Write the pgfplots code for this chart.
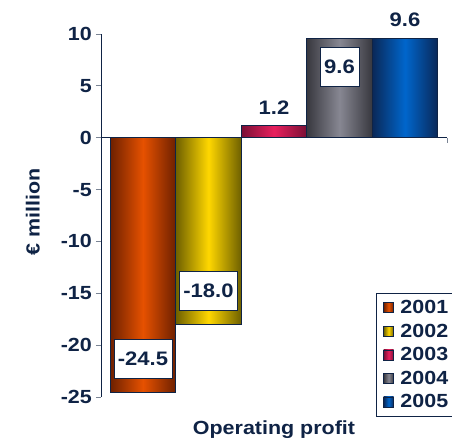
\documentclass[border=0pt]{standalone}
\usepackage{pgfplots}
\pgfplotsset{compat=1.18}
\usepackage{fontspec}
\setmainfont{Liberation Sans}[FakeStretch=1.13]

\definecolor{navy}{HTML}{0F2345}
\definecolor{tickgray}{HTML}{7A8494}
\definecolor{orA}{HTML}{E65100}\definecolor{orB}{HTML}{6E2000}
\definecolor{yeA}{HTML}{FFD700}\definecolor{yeB}{HTML}{6E6000}
\definecolor{reA}{HTML}{E8205E}\definecolor{reB}{HTML}{7A0F35}
\definecolor{grA}{HTML}{878792}\definecolor{grB}{HTML}{38383F}
\definecolor{blA}{HTML}{0066CC}\definecolor{blB}{HTML}{0A2858}

\tikzset{
  boxlabel/.style={fill=white, draw=navy, line width=0.6pt, minimum height=39pt,
    inner xsep=4pt, text=navy, anchor=center},
  freelabel/.style={fill=none, draw=none, text=navy, anchor=center},
}

\begin{document}
\begin{tikzpicture}
% page = 452 x 441, axis box lower-left at (101,44) from the page corner
\path[use as bounding box] (-101pt,-44pt) rectangle ++(452pt,441pt);
\begin{axis}[
  at={(0pt,0pt)}, anchor=south west,
  scale only axis, width=346pt, height=363pt,
  xmin=0.359, xmax=5.641, ymin=-25, ymax=10,
  clip=false,
  axis y line*=left, axis x line*=middle,
  axis line style={navy, line width=0.6pt},
  xtick=\empty,
  extra x ticks={5.641}, extra x tick labels={},
  extra x tick style={tick align=outside, major tick length=5pt},
  ytick={-25,-20,...,10},
  tick align=outside, major tick length=5pt,
  tick style={tickgray, line width=0.8pt},
  /pgf/number format/assume math mode=true,
  yticklabel style={font=\fontsize{19}{19}\selectfont\bfseries, text=navy, inner xsep=4pt},
  ylabel={€ million},
  every axis y label/.style={at={(axis description cs:-0.197,0.51)}, rotate=90,
    anchor=center, font=\fontsize{19}{19}\selectfont\bfseries, text=navy},
  xlabel={Operating profit},
  every axis x label/.style={at={(axis description cs:0.5,-0.09)},
    anchor=center, font=\fontsize{19}{19}\selectfont\bfseries, text=navy},
  ybar, bar width=1, bar shift=0pt,
  nodes near coords={\pgfmathprintnumber[fixed,fixed zerofill,precision=1]{\pgfplotspointmeta}},
  nodes near coords style={font=\fontsize{19.5}{19.5}\selectfont\bfseries},
  legend style={at={(axis description cs:0.795,0.2865)}, anchor=north west,
    draw=navy, line width=0.6pt, font=\fontsize{19}{19}\selectfont\bfseries,
    text=navy, row sep=4.8pt, inner xsep=2pt, inner ysep=5pt,
    nodes={inner sep=2pt}},
  legend cell align=left,
  legend image code/.code={\draw[#1, draw=navy, line width=0.6pt] (0pt,-5pt) rectangle (10pt,5pt);
    \path (-5pt,0pt) (14.5pt,0pt);},
]
\addplot[draw=navy, line width=0.6pt, left color=orB, right color=orB, middle color=orA,
  every node near coord/.append style={boxlabel, yshift=33pt}]
  coordinates {(1,-24.5)};
\addlegendentry{2001}
\addplot[draw=navy, line width=0.6pt, left color=yeB, right color=yeB, middle color=yeA,
  every node near coord/.append style={boxlabel, yshift=34pt}]
  coordinates {(2,-18.0)};
\addlegendentry{2002}
\addplot[draw=navy, line width=0.6pt, left color=reB, right color=reB, middle color=reA,
  every node near coord/.append style={freelabel, yshift=18pt}]
  coordinates {(3,1.2)};
\addlegendentry{2003}
\addplot[draw=navy, line width=0.6pt, left color=grB, right color=grB, middle color=grA,
  every node near coord/.append style={boxlabel, yshift=-29pt}]
  coordinates {(4,9.6)};
\addlegendentry{2004}
\addplot[draw=navy, line width=0.6pt, left color=blB, right color=blB, middle color=blA,
  every node near coord/.append style={freelabel, yshift=18pt}]
  coordinates {(5,9.6)};
\addlegendentry{2005}
\end{axis}
\end{tikzpicture}
\end{document}
